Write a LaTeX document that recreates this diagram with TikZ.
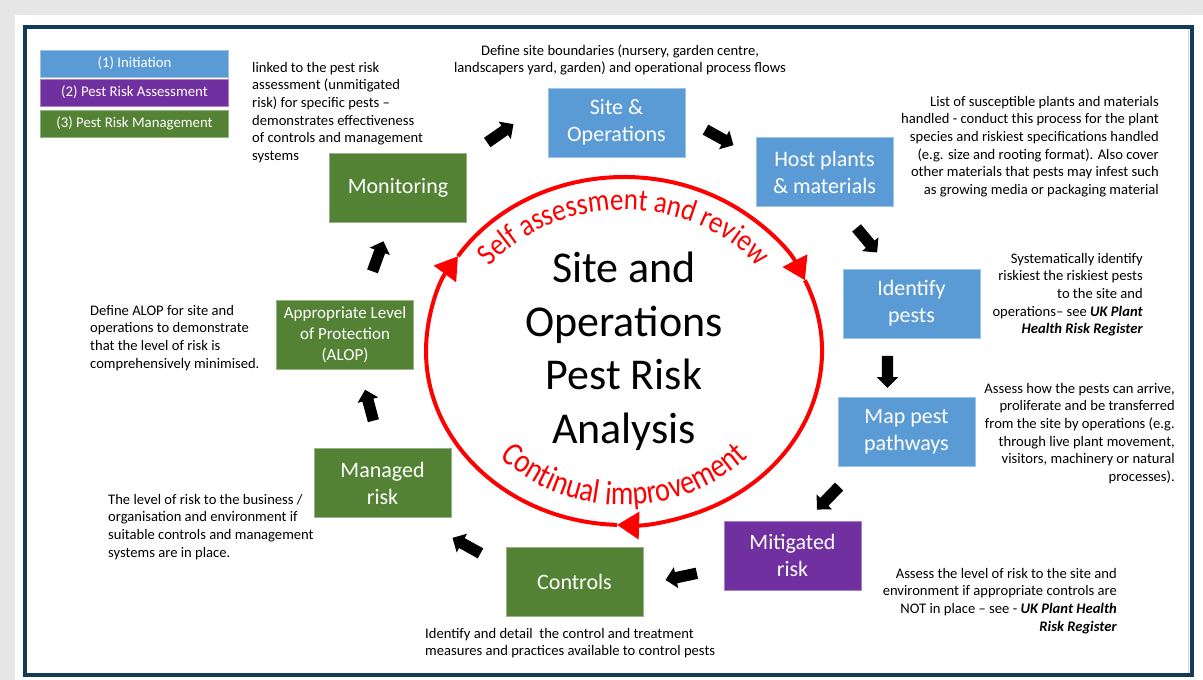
\documentclass[tikz,border=0pt]{standalone}
\usepackage{fontspec}
\setmainfont{Carlito}
\newfontfamily\arcfont[FakeStretch=0.87]{Carlito}
\newfontfamily\lowarcfont[FakeStretch=0.83]{Carlito}
\usetikzlibrary{arrows.meta,shapes.arrows,decorations.text,calc}

\definecolor{pblue}{HTML}{5B9BD5}
\definecolor{pgreen}{HTML}{548235}
\definecolor{ppurple}{HTML}{7030A0}
\definecolor{framenavy}{HTML}{133A57}
\definecolor{pagegray}{HTML}{E6E6E6}

\begin{document}
\begin{tikzpicture}[x=1pt,y=-1pt,
  stage/.style={minimum width=137pt, minimum height=69pt, inner sep=2pt,
    align=center, text=white, line width=0.8pt,
    font=\fontsize{22}{27}\selectfont},
  init/.style={stage, fill=pblue, draw=pblue!60!white},
  assess/.style={stage, fill=ppurple, draw=ppurple!60!white},
  manage/.style={stage, fill=pgreen, draw=pgreen!60!white},
  key/.style={minimum width=188pt, minimum height=27pt, inner sep=1pt,
    text=white, line width=0.8pt, font=\fontsize{14.8}{17}\selectfont},
  note/.style={inner sep=0pt, font=\fontsize{14.6}{17.7}\selectfont},
  blk/.style={single arrow, fill=black, draw=none, inner sep=5.5pt,
    minimum height=32pt, single arrow head extend=5pt,
    single arrow head indent=0pt},
  cyc/.style={draw=red, line width=4pt, -{Triangle[length=22pt, width=27pt]}},
  arclabel/.style 2 args={decorate, decoration={text along path, text align=center,
    text color=red, text={|#1|#2}}}
]
\useasboundingbox (0,0) rectangle (1203,680);

% page and frame
\fill[pagegray] (0,0) rectangle (1203,680);
\fill[white] (15,15) rectangle (1203,680);
\draw[gray!35, line width=1pt] (1188,29) -- (1188,673);
\draw[framenavy, line width=4pt] (25,27) rectangle (1192,675);

% legend
\node[key, fill=pblue, draw=pblue!60!white] (k1) at (134.5,63.5) {(1) Initiation};
\node[key, fill=ppurple, draw=ppurple!60!white] (k2) at (134.5,92.5) {(2) Pest Risk Assessment};
\node[key, fill=pgreen, draw=pgreen!60!white] (k3) at (134.5,123.5) {(3) Pest Risk Management};

% process stages
\node[init]   (site)  at (616.5,122.5) {Site \&\\Operations};
\node[init]   (host)  at (824.5,172)   {Host plants\\\& materials};
\node[init]   (ident) at (911.5,303.5) {Identify\\pests};
\node[init]   (map)   at (906.5,431.5) {Map pest\\pathways};
\node[assess] (mitig) at (792.5,555.5) {Mitigated\\risk};
\node[manage] (ctrl)  at (574.5,581.5) {Controls};
\node[manage] (mgd)   at (382.5,483)   {Managed\\risk};
\node[manage, font=\fontsize{17}{21}\selectfont] (alop) at (345,334.5)
  {Appropriate Level\\of Protection\\(ALOP)};
\node[manage] (mon)   at (398,187.5)   {Monitoring};

% block arrows between the stages
\node[blk, rotate=35]   (a1) at (498,135) {};
\node[blk, rotate=-29]  (a2) at (717,136) {};
\node[blk, rotate=-50]  (a3) at (865,238) {};
\node[blk, rotate=-90]  (a4) at (887.5,369) {};
\node[blk, rotate=-134] (a5) at (830,496) {};
\node[blk, rotate=-168] (a6) at (684,576) {};
\node[blk, rotate=151]  (a7) at (469,547) {};
\node[blk, rotate=105]  (a8) at (370,408) {};
\node[blk, rotate=70]   (a9) at (377,259) {};

% central cycle
\coordinate (c) at (624,351);
\draw[cyc] ($(c)+(92:198 and 174)$) arc[start angle=92, end angle=213, x radius=198, y radius=174];
\draw[cyc] ($(c)+(213:198 and 174)$) arc[start angle=213, end angle=336, x radius=198, y radius=174];
\draw[cyc] ($(c)+(336:198 and 174)$) arc[start angle=336, end angle=452, x radius=198, y radius=174];

\path[arclabel={\arcfont\fontsize{31}{36}\selectfont}{Self assessment and review}]
  ($(c)+(200:167 and 141)$) arc[start angle=200, end angle=340, x radius=167, y radius=141];
\path[arclabel={\lowarcfont\fontsize{34}{40}\selectfont}{Continual improvement}]
  ($(c)+(150:171 and 154)$) arc[start angle=150, end angle=30, x radius=171, y radius=154];

% the base anchor of a multi-line node sits on its last line
\node[inner sep=0pt, align=center, anchor=base, font=\fontsize{44}{53.5}\selectfont] (title)
  at (624,443) {Site and\\Operations\\Pest Risk\\Analysis};

% descriptions
\node[note, align=left, anchor=base west] (tmon) at (252,160.5)
  {linked to the pest risk\\assessment (unmitigated\\risk) for specific pests –\\demonstrates effectiveness\\of controls and management\\systems};
\node[note, align=center, anchor=base] (tsite) at (620,72.7)
  {Define site boundaries (nursery, garden centre,\\landscapers yard, garden) and operational process flows};
\node[note, align=right, anchor=base east] (thost) at (1159,194.5)
  {List of susceptible plants and materials\\handled - conduct this process for the plant\\species and riskiest specifications handled\\(e.g. size and rooting format). Also cover\\other materials that pests may infest such\\as growing media or packaging material};
\node[note, align=right, anchor=base east] (tident) at (1143,333.8)
  {Systematically identify\\riskiest the riskiest pests\\to the site and\\operations– see \textbf{\textit{UK Plant}}\\\textbf{\textit{Health Risk Register}}};
\node[note, align=right, anchor=base east] (tmap) at (1175,481.5)
  {Assess how the pests can arrive,\\proliferate and be transferred\\from the site by operations (e.g.\\through live plant movement,\\visitors, machinery or natural\\processes).};
\node[note, align=right, anchor=base east] (tmitig) at (1117,631.1)
  {Assess the level of risk to the site and\\environment if appropriate controls are\\NOT in place – see - \textbf{\textit{UK Plant Health}}\\\textbf{\textit{Risk Register}}};
\node[note, align=left, anchor=base west] (tctrl) at (425,655.7)
  {Identify and detail\ \ the control and treatment\\measures and practices available to control pests};
\node[note, align=left, anchor=base west] (tmgd) at (108,557.1)
  {The level of risk to the business /\\organisation and environment if\\suitable controls and management\\systems are in place.};
\node[note, align=left, anchor=base west] (talop) at (90,368.1)
  {Define ALOP for site and\\operations to demonstrate\\that the level of risk is\\comprehensively minimised.};
\end{tikzpicture}
\end{document}
